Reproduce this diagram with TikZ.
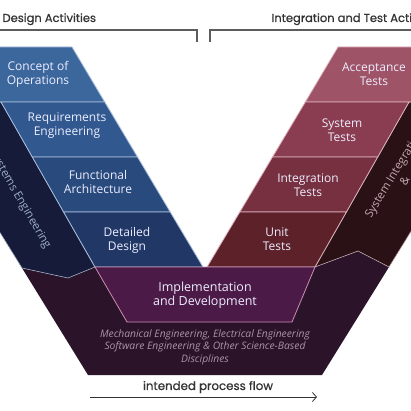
\documentclass[tikz,border=0pt]{standalone}
\usepackage{fontspec}
\setmainfont{Open Sans}
\newfontfamily\headfont{Poppins}[FakeBold=0.8]
\usetikzlibrary{arrows.meta}

\definecolor{conopsblue}{HTML}{3C679C}
\definecolor{reqblue}{HTML}{31598F}
\definecolor{funcblue}{HTML}{294A7D}
\definecolor{detblue}{HTML}{213866}
\definecolor{seband}{HTML}{151B38}
\definecolor{acceptred}{HTML}{9E5366}
\definecolor{sysred}{HTML}{8A3D50}
\definecolor{integred}{HTML}{763040}
\definecolor{unitred}{HTML}{5C2129}
\definecolor{siband}{HTML}{2A1116}
\definecolor{implplum}{HTML}{4B1A47}
\definecolor{baseplum}{HTML}{2B1329}
\definecolor{blueline}{HTML}{A9BEDD}
\definecolor{redline}{HTML}{DDB3BF}
\definecolor{disctext}{HTML}{A896AA}
\definecolor{headgray}{HTML}{333333}

\begin{document}
\begin{tikzpicture}[x=1pt,y=-1pt,
    blocktext/.style={align=center,text=white!93!blue,font=\fontsize{12}{14}\selectfont},
    bandtext/.style={align=center,font=\fontsize{11.5}{13}\selectfont},
    headtext/.style={anchor=base west,text=headgray,font=\headfont\fontsize{11.5}{13}\selectfont},
  ]
        \useasboundingbox (0,0) rectangle (411,411);
        \clip (0,0) rectangle (411,411);

        % bottom base
        \fill[baseplum] (22,268) -- (68,278) -- (95,267) -- (315,267) -- (358,251)
            -- (389,267) -- (322,375) -- (88,375) -- cycle;

        % side bands
        \filldraw[seband, draw=blueline!70!gray, line width=0.6pt]
            (-81,102) -- (1,102) -- (95,267) -- (68,278) -- (22,268) -- cycle;
        \filldraw[siband, draw=redline!70!gray, line width=0.6pt]
            (409,102) -- (491,102) -- (389,267) -- (358,251) -- (315,267) -- cycle;

        % design blocks
        \filldraw[conopsblue, draw=blueline, line width=0.8pt] (-50,47) -- (72,47) -- (104.7,102) -- (-50,102) -- cycle;
        \filldraw[reqblue, draw=blueline, line width=0.8pt] (1,102) -- (104.7,102) -- (137.5,157) -- (32.3,157) -- cycle;
        \filldraw[funcblue, draw=blueline, line width=0.8pt] (32.3,157) -- (137.5,157) -- (170.2,212) -- (63.6,212) -- cycle;
        \filldraw[detblue, draw=blueline, line width=0.8pt] (63.6,212) -- (170.2,212) -- (203,267) -- (95,267) -- cycle;

        % test blocks
        \filldraw[acceptred, draw=redline, line width=0.8pt] (338,47) -- (460,47) -- (460,102) -- (305.3,102) -- cycle;
        \filldraw[sysred, draw=redline, line width=0.8pt] (305.3,102) -- (409,102) -- (377.7,157) -- (272.5,157) -- cycle;
        \filldraw[integred, draw=redline, line width=0.8pt] (272.5,157) -- (377.7,157) -- (346.4,212) -- (239.8,212) -- cycle;
        \filldraw[unitred, draw=redline, line width=0.8pt] (239.8,212) -- (346.4,212) -- (315,267) -- (207,267) -- cycle;

        % implementation
        \filldraw[implplum, draw=redline!80!violet, line width=0.8pt]
            (95,267) -- (315,267) -- (292,322) -- (127,322) -- cycle;

        % block labels
        \node[blocktext] (conops) at (38,74) {Concept of\\Operations};
        \node[blocktext] (req) at (67,126) {Requirements\\Engineering};
        \node[blocktext] (func) at (98,182) {Functional\\Architecture};
        \node[blocktext] (detail) at (127,240) {Detailed\\Design};

        \node[blocktext] (accept) at (374,74) {Acceptance\\Tests};
        \node[blocktext] (systest) at (342,130) {System\\Tests};
        \node[blocktext] (integ) at (308,185) {Integration\\Tests};
        \node[blocktext] (unit) at (277,239) {Unit\\Tests};

        \node[blocktext, font=\fontsize{12.5}{14}\selectfont] (impl) at (205,295) {Implementation\\and Development};
        \node[align=center, text=disctext, font=\itshape\fontsize{10.3}{12.5}\selectfont] (disc) at (205,347)
            {Mechanical Engineering, Electrical Engineering\\Software Engineering \& Other Science-Based\\Disciplines};

        % band labels
        \node[bandtext, text=blueline!75!gray, rotate=-60] (se) at (20,200) {Systems Engineering};
        \node[bandtext, text=redline!75!gray, rotate=59] (si) at (399,177) {System Integration\\\&};

        % activity brackets
        \node[headtext] (design) at (-1,22) {Design Activities};
        \node[headtext] (test) at (268,22) {Integration and Test Activities};
        \draw[headgray!80, line width=1.2pt] (-5,30) -- (197,30) -- (197,42);
        \draw[headgray!80, line width=1.2pt] (210,42) -- (210,30) -- (420,30);

        % process flow
        \coordinate (flow start) at (90,397);
        \coordinate (flow end) at (317,397);
        \draw[-{Straight Barb[length=4pt,width=9pt]}, headgray, line width=0.8pt] (flow start) -- (flow end);
        \node[text=headgray, font=\headfont\fontsize{11.8}{13}\selectfont] (flow) at (208,387) {intended process flow};
\end{tikzpicture}
\end{document}
